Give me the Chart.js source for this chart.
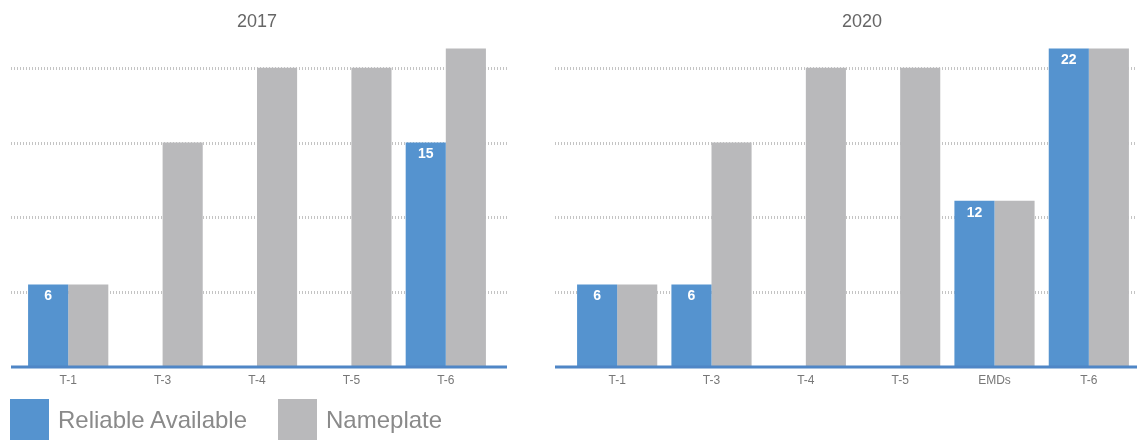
<!DOCTYPE html>
<html>
<head>
<meta charset="utf-8">
<script src="https://cdn.jsdelivr.net/npm/chart.js@4.4.0/dist/chart.umd.min.js"></script>
<style>
  body { margin: 0; background: #fff; width: 1137px; height: 442px; overflow: hidden; position: relative; font-family: "Liberation Sans", Arial, sans-serif; }
  #wrap2017 { position: absolute; left: 0; top: 0; width: 514px; height: 442px; }
  #wrap2020 { position: absolute; left: 549px; top: 0; width: 588px; height: 442px; }
  #legend { position: absolute; left: 10px; top: 399px; display: flex; align-items: center; }
  .item { display: flex; align-items: center; margin-right: 31px; }
  .box { width: 39px; height: 41px; margin-right: 9px; }
  .lbl { font-size: 24px; color: #8a8a8a; }
</style>
</head>
<body>
<div id="wrap2017"><canvas id="chart2017"></canvas></div>
<div id="wrap2020"><canvas id="chart2020"></canvas></div>
<div id="legend"></div>
<script>
const seriesNames = ["Reliable Available", "Nameplate"];
const seriesColors = ["#5593cf", "#b9b9bb"];
const gridValues = [5, 10, 15, 20];

const cats2017 = ["T-1", "T-3", "T-4", "T-5", "T-6"];
const reliable2017 = [5.5, 0, 0, 0, 15];
const nameplate2017 = [5.5, 15, 20, 20, 21.3];
const labels2017 = ["6", "", "", "", "15"];

const cats2020 = ["T-1", "T-3", "T-4", "T-5", "EMDs", "T-6"];
const reliable2020 = [5.5, 5.5, 0, 0, 11.1, 21.3];
const nameplate2020 = [5.5, 15, 20, 20, 11.1, 21.3];
const labels2020 = ["6", "6", "", "", "12", "22"];

// dotted grid behind bars, blue axis line in front, title and value labels
const decor = {
  id: "decor",
  beforeDatasetsDraw(chart, args, opts) {
    const ctx = chart.ctx, a = chart.chartArea, y = chart.scales.y;
    ctx.save();
    ctx.strokeStyle = "#c4c4c4";
    ctx.lineWidth = 3;
    ctx.setLineDash([1, 2]);
    for (const v of gridValues) {
      const py = Math.round(y.getPixelForValue(v)) + 0.5;
      ctx.beginPath();
      ctx.moveTo(a.left - opts.extL, py);
      ctx.lineTo(a.right + opts.extR, py);
      ctx.stroke();
    }
    ctx.restore();
  },
  afterDatasetsDraw(chart, args, opts) {
    const ctx = chart.ctx, a = chart.chartArea, y = chart.scales.y;
    ctx.save();
    ctx.strokeStyle = "#4f86c6";
    ctx.lineWidth = 3;
    const py = y.getPixelForValue(0) + 0.5;
    ctx.beginPath();
    ctx.moveTo(a.left - opts.extL, py);
    ctx.lineTo(a.right + opts.extR, py);
    ctx.stroke();

    ctx.fillStyle = "#fff";
    ctx.font = "bold 14px 'Liberation Sans', Arial, sans-serif";
    ctx.textAlign = "center";
    ctx.textBaseline = "top";
    chart.getDatasetMeta(0).data.forEach((bar, i) => {
      const t = opts.labels[i];
      if (t) ctx.fillText(t, bar.x, bar.y + 5);
    });

    ctx.fillStyle = "#666";
    ctx.font = "18px 'Liberation Sans', Arial, sans-serif";
    ctx.textBaseline = "middle";
    ctx.fillText(opts.title, (a.left + a.right) / 2 + opts.titleShift, 22);
    ctx.restore();
  }
};

function makeChart(id, cats, reliable, nameplate, labels, title, pad, ext, titleShift) {
  return new Chart(document.getElementById(id), {
    type: "bar",
    data: {
      labels: cats,
      datasets: [
        { label: seriesNames[0], data: reliable, backgroundColor: seriesColors[0] },
        { label: seriesNames[1], data: nameplate, backgroundColor: seriesColors[1] }
      ]
    },
    options: {
      responsive: true,
      maintainAspectRatio: false,
      animation: false,
      layout: { padding: pad },
      datasets: { bar: { categoryPercentage: 0.85, barPercentage: 1.0 } },
      scales: {
        x: {
          grid: { display: false, drawTicks: false },
          border: { display: false },
          ticks: { color: "#777", font: { size: 12, family: "'Liberation Sans', Arial, sans-serif" }, padding: 7 }
        },
        y: { display: false, min: 0, max: 22 }
      },
      plugins: {
        legend: { display: false },
        tooltip: { enabled: false },
        decor: { labels: labels, title: title, extL: ext[0], extR: ext[1], titleShift: titleShift }
      }
    },
    plugins: [decor]
  });
}

makeChart("chart2017", cats2017, reliable2017, nameplate2017, labels2017, "2017",
  { top: 38, left: 21, right: 21, bottom: 47 }, [10, 14], 0);
makeChart("chart2020", cats2020, reliable2020, nameplate2020, labels2020, "2020",
  { top: 38, left: 21, right: 1, bottom: 47 }, [15, 1], 9);

const legend = document.getElementById("legend");
seriesNames.forEach((name, i) => {
  const item = document.createElement("div");
  item.className = "item";
  item.innerHTML = '<div class="box" style="background:' + seriesColors[i] + '"></div><span class="lbl">' + name + '</span>';
  legend.appendChild(item);
});
</script>
</body>
</html>
